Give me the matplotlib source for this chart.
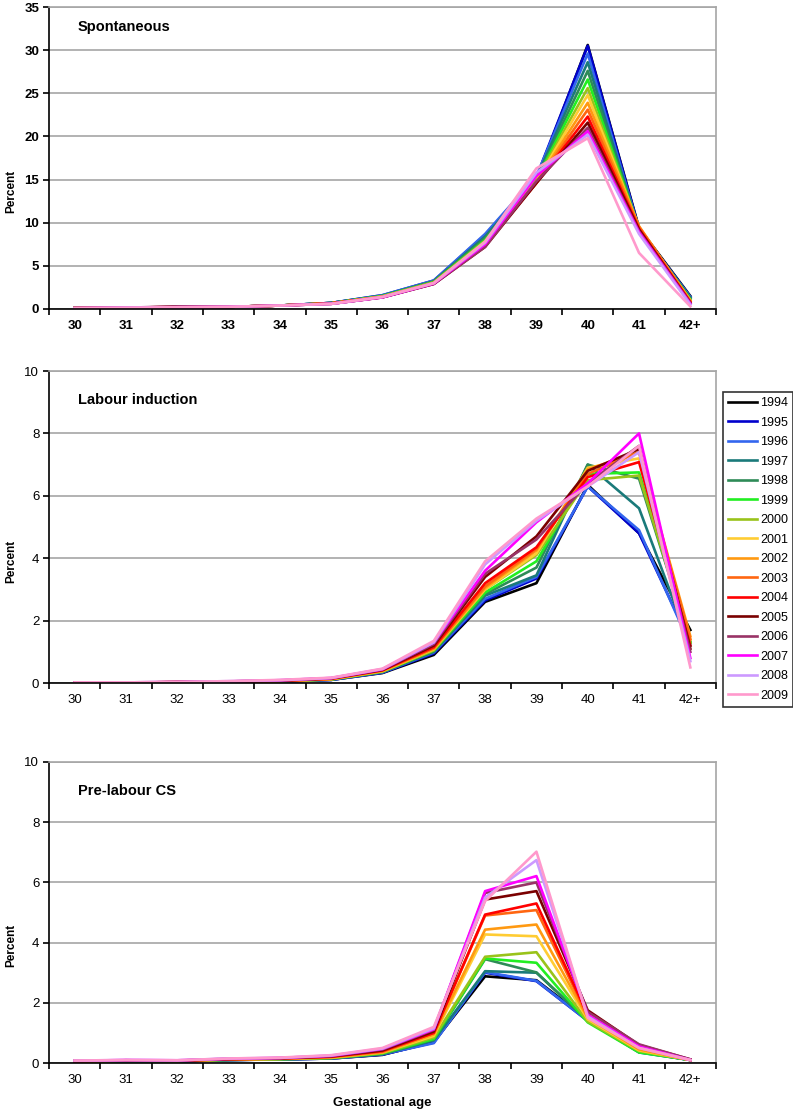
import matplotlib
matplotlib.use("Agg")
import matplotlib.pyplot as plt

plt.rcParams['font.family'] = ['Liberation Sans', 'DejaVu Sans']

# gestational age categories
weeks = ['30', '31', '32', '33', '34', '35', '36', '37', '38', '39', '40', '41', '42+']
years = ['1994', '1995', '1996', '1997', '1998', '1999', '2000', '2001',
         '2002', '2003', '2004', '2005', '2006', '2007', '2008', '2009']
colors = ['#000000', '#0000CC', '#3366EE', '#1A7A7A', '#2E8B57', '#22EE22',
          '#99C31A', '#FFCC33', '#FF9911', '#FF6611', '#FF0000', '#7A0000',
          '#993366', '#FF00FF', '#CC99FF', '#FF99CC']

# percent by week, one row per year (1994 ... 2009)
spontaneous = [
    [0.10, 0.15, 0.20, 0.25, 0.40, 0.70, 1.50, 3.20, 8.3, 15.0, 30.6, 9.4, 1.5],
    [0.10, 0.15, 0.20, 0.25, 0.40, 0.70, 1.60, 3.30, 8.6, 15.3, 30.5, 9.3, 1.4],
    [0.10, 0.15, 0.20, 0.25, 0.40, 0.70, 1.60, 3.30, 8.7, 15.4, 29.6, 9.2, 1.4],
    [0.10, 0.15, 0.20, 0.25, 0.40, 0.70, 1.55, 3.20, 8.4, 15.2, 28.6, 9.2, 1.3],
    [0.10, 0.15, 0.20, 0.25, 0.40, 0.70, 1.50, 3.20, 8.2, 15.0, 27.6, 9.2, 1.2],
    [0.10, 0.15, 0.20, 0.25, 0.40, 0.65, 1.50, 3.10, 8.0, 15.0, 26.6, 9.3, 1.1],
    [0.10, 0.15, 0.20, 0.25, 0.40, 0.65, 1.45, 3.10, 7.9, 14.9, 25.6, 9.4, 1.0],
    [0.10, 0.15, 0.20, 0.25, 0.40, 0.65, 1.45, 3.00, 7.8, 14.8, 24.8, 9.5, 1.0],
    [0.10, 0.15, 0.20, 0.25, 0.40, 0.65, 1.40, 3.00, 7.6, 14.7, 23.9, 9.6, 0.9],
    [0.10, 0.15, 0.20, 0.25, 0.40, 0.65, 1.40, 3.00, 7.5, 14.6, 23.1, 9.5, 0.9],
    [0.10, 0.15, 0.25, 0.25, 0.40, 0.65, 1.40, 2.95, 7.4, 14.6, 22.3, 9.3, 0.8],
    [0.10, 0.15, 0.25, 0.25, 0.40, 0.60, 1.35, 2.90, 7.2, 14.6, 21.6, 9.2, 0.7],
    [0.10, 0.15, 0.30, 0.25, 0.40, 0.60, 1.35, 2.90, 7.2, 14.8, 21.0, 9.0, 0.7],
    [0.10, 0.15, 0.20, 0.25, 0.40, 0.60, 1.35, 2.95, 7.5, 15.4, 20.6, 8.9, 0.6],
    [0.10, 0.15, 0.20, 0.25, 0.40, 0.60, 1.40, 3.00, 7.7, 15.8, 20.2, 8.7, 0.5],
    [0.10, 0.15, 0.20, 0.25, 0.40, 0.60, 1.40, 3.00, 7.8, 16.3, 19.8, 6.5, 0.3],
]

induction = [
    [0.01, 0.01, 0.02, 0.03, 0.05, 0.10, 0.32, 0.90, 2.60, 3.20, 6.35, 4.80, 1.70],
    [0.01, 0.01, 0.02, 0.03, 0.05, 0.10, 0.33, 0.95, 2.65, 3.35, 6.30, 4.80, 1.30],
    [0.01, 0.01, 0.02, 0.03, 0.05, 0.10, 0.34, 0.98, 2.70, 3.40, 6.30, 4.90, 1.20],
    [0.01, 0.01, 0.02, 0.03, 0.05, 0.11, 0.35, 1.00, 2.80, 3.45, 7.00, 5.60, 1.20],
    [0.01, 0.01, 0.02, 0.03, 0.06, 0.11, 0.36, 1.02, 2.85, 3.70, 7.00, 6.55, 1.30],
    [0.01, 0.01, 0.02, 0.04, 0.06, 0.12, 0.37, 1.05, 2.90, 3.90, 6.70, 6.75, 1.30],
    [0.01, 0.01, 0.02, 0.04, 0.06, 0.12, 0.37, 1.05, 3.00, 4.10, 6.50, 6.65, 1.30],
    [0.01, 0.01, 0.02, 0.04, 0.06, 0.12, 0.38, 1.08, 3.00, 4.15, 6.90, 7.20, 1.40],
    [0.01, 0.01, 0.03, 0.04, 0.07, 0.13, 0.39, 1.10, 3.05, 4.25, 6.85, 7.40, 1.50],
    [0.01, 0.01, 0.03, 0.04, 0.07, 0.13, 0.40, 1.12, 3.10, 4.30, 6.70, 7.40, 1.40],
    [0.01, 0.01, 0.03, 0.05, 0.07, 0.14, 0.41, 1.15, 3.20, 4.35, 6.60, 7.08, 1.20],
    [0.01, 0.01, 0.03, 0.05, 0.08, 0.15, 0.42, 1.20, 3.40, 4.70, 6.80, 7.50, 1.10],
    [0.01, 0.02, 0.03, 0.05, 0.08, 0.15, 0.43, 1.25, 3.50, 4.60, 6.40, 7.60, 1.00],
    [0.01, 0.02, 0.03, 0.05, 0.09, 0.16, 0.44, 1.30, 3.60, 5.15, 6.40, 8.00, 0.80],
    [0.01, 0.02, 0.03, 0.06, 0.09, 0.16, 0.45, 1.30, 3.80, 5.20, 6.30, 7.40, 0.70],
    [0.02, 0.02, 0.03, 0.06, 0.10, 0.17, 0.46, 1.35, 3.90, 5.27, 6.30, 7.60, 0.50],
]

prelabour_cs = [
    [0.05, 0.07, 0.06, 0.10, 0.12, 0.15, 0.27, 0.70, 2.88, 2.75, 1.45, 0.40, 0.10],
    [0.05, 0.07, 0.06, 0.10, 0.12, 0.15, 0.28, 0.68, 3.00, 2.72, 1.40, 0.38, 0.10],
    [0.05, 0.07, 0.06, 0.10, 0.12, 0.15, 0.29, 0.66, 3.02, 2.73, 1.40, 0.35, 0.10],
    [0.05, 0.07, 0.06, 0.10, 0.12, 0.16, 0.30, 0.75, 3.05, 3.00, 1.40, 0.36, 0.10],
    [0.05, 0.07, 0.06, 0.10, 0.13, 0.16, 0.30, 0.78, 3.45, 3.01, 1.40, 0.37, 0.10],
    [0.05, 0.07, 0.07, 0.11, 0.13, 0.17, 0.32, 0.80, 3.47, 3.33, 1.35, 0.35, 0.10],
    [0.05, 0.08, 0.07, 0.11, 0.13, 0.17, 0.33, 0.85, 3.53, 3.68, 1.38, 0.40, 0.10],
    [0.06, 0.08, 0.07, 0.12, 0.14, 0.18, 0.35, 0.90, 4.27, 4.21, 1.45, 0.42, 0.10],
    [0.06, 0.08, 0.07, 0.12, 0.14, 0.19, 0.36, 0.95, 4.43, 4.60, 1.50, 0.45, 0.10],
    [0.06, 0.08, 0.08, 0.12, 0.15, 0.20, 0.38, 1.00, 4.90, 5.08, 1.55, 0.50, 0.10],
    [0.06, 0.09, 0.08, 0.13, 0.15, 0.21, 0.40, 1.00, 4.93, 5.30, 1.60, 0.52, 0.10],
    [0.07, 0.09, 0.08, 0.13, 0.16, 0.22, 0.42, 1.05, 5.43, 5.71, 1.75, 0.60, 0.12],
    [0.07, 0.09, 0.08, 0.14, 0.16, 0.23, 0.45, 1.10, 5.65, 6.00, 1.70, 0.62, 0.12],
    [0.07, 0.10, 0.09, 0.14, 0.17, 0.24, 0.47, 1.12, 5.71, 6.21, 1.60, 0.55, 0.10],
    [0.08, 0.10, 0.09, 0.15, 0.17, 0.25, 0.48, 1.15, 5.50, 6.74, 1.55, 0.50, 0.10],
    [0.08, 0.10, 0.09, 0.15, 0.18, 0.26, 0.50, 1.20, 5.38, 7.02, 1.50, 0.50, 0.10],
]

W, H = 793, 1114
fig = plt.figure(figsize=(W / 100, H / 100), dpi=100)


def px_axes(top, bottom, left=49, right=716):
    return fig.add_axes([left / W, 1 - bottom / H, (right - left) / W, (bottom - top) / H])


# data, title, y max, y step, top px, bottom px, bold ticks, title y (axes frac)
panels = [
    (spontaneous, 'Spontaneous', 35, 5, 7, 309, True, 0.934),
    (induction, 'Labour induction', 10, 2, 371, 683, False, 0.907),
    (prelabour_cs, 'Pre-labour CS', 10, 2, 762, 1063, False, 0.905),
]

x = list(range(len(weeks)))
handles = []
for data, title, ymax, step, top, bottom, bold, ty in panels:
    ax = px_axes(top, bottom)
    ax.set_xlim(-0.5, len(weeks) - 0.5)
    ax.set_ylim(0, ymax)
    ax.set_yticks(range(0, ymax + 1, step))
    ax.yaxis.grid(True, color='#A6A6A6', lw=1.2)
    ax.set_axisbelow(True)
    for vals, c, yr in zip(data, colors, years):
        ln, = ax.plot(x, vals, color=c, lw=1.9, label=yr)
        if title == 'Labour induction':
            handles.append(ln)
    ax.spines['left'].set_color('black')
    ax.spines['bottom'].set_color('black')
    ax.spines['left'].set_linewidth(1.2)
    ax.spines['bottom'].set_linewidth(1.2)
    for s in ('top', 'right'):
        ax.spines[s].set_color('#A6A6A6')
        ax.spines[s].set_linewidth(1.2)
    # tick marks between categories, labels at the category centres
    ax.set_xticks([i - 0.5 for i in range(len(weeks) + 1)])
    ax.set_xticklabels([])
    ax.set_xticks(x, minor=True)
    ax.set_xticklabels(weeks, minor=True)
    ax.tick_params(axis='x', which='major', direction='out', length=4, width=1.2)
    ax.tick_params(axis='x', which='minor', length=0, pad=8)
    ax.tick_params(axis='y', direction='out', length=4, width=1.2, pad=3)
    weight = 'bold' if bold else 'normal'
    for lab in ax.get_xticklabels(minor=True) + ax.get_yticklabels():
        lab.set_fontsize(9.5)
        lab.set_fontweight(weight)
    ax.set_ylabel('Percent', fontsize=8.5, fontweight='bold')
    ax.yaxis.set_label_coords(-0.048, 0.39)
    ax.text(0.043, ty, title, transform=ax.transAxes, fontsize=10.5,
            fontweight='bold', va='center', ha='left')

ax.set_xlabel('Gestational age', fontsize=9.5, fontweight='bold', labelpad=8)

leg = fig.legend(handles=handles, loc='upper left',
                 bbox_to_anchor=(723 / W, 1 - 392 / H), fontsize=9,
                 frameon=True, fancybox=False, edgecolor='black',
                 handlelength=2.3, handletextpad=0.25, labelspacing=0.6,
                 borderpad=0.4, borderaxespad=0)
leg.get_frame().set_linewidth(1.2)

fig.savefig('out.png', dpi=100)
